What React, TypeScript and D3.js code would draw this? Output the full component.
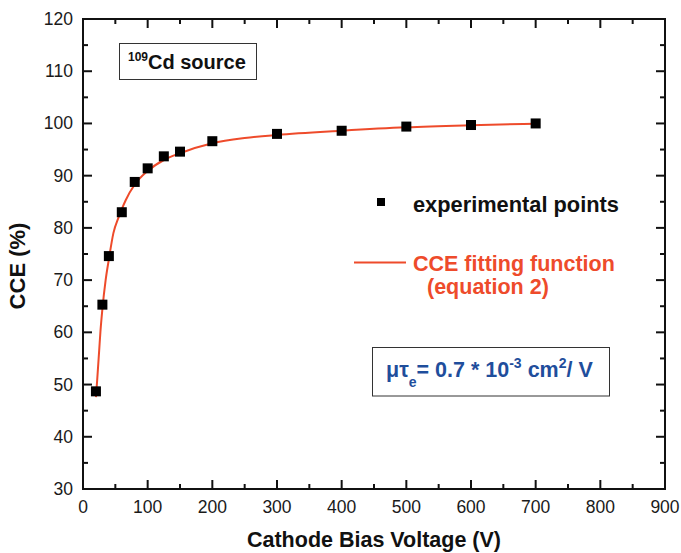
import React from "react";
import * as d3 from "d3";

const voltages = [20, 30, 40, 60, 80, 100, 125, 150, 200, 300, 400, 500, 600, 700];
const cceValues = [48.7, 65.3, 74.6, 83.0, 88.8, 91.4, 93.7, 94.6, 96.6, 98.0, 98.6, 99.4, 99.7, 100.0];

const fitVoltages = [20, 22, 25, 27, 30, 35, 40, 47, 55, 60, 66, 80, 100, 125, 150, 200, 250, 300, 400, 500, 600, 700];
const fitValues = [47.6, 51.0, 56.5, 60.2, 64.5, 70.0, 74.0, 79.0, 82.0, 83.6, 85.3, 88.3, 90.9, 93.0, 94.3, 96.2, 97.2, 97.8, 98.6, 99.25, 99.65, 99.95];

const xMajorTicks = [0, 100, 200, 300, 400, 500, 600, 700, 800, 900];
const xMinorTicks = [50, 150, 250, 350, 450, 550, 650, 750, 850];
const yMajorTicks = [30, 40, 50, 60, 70, 80, 90, 100, 110, 120];
const yMinorTicks = [35, 45, 55, 65, 75, 85, 95, 105, 115];

const FONT = "'Liberation Sans', Arial, Helvetica, sans-serif";
const RED = "#ee4b2b";
const BLUE = "#1f4e9c";

export default function App() {
  const left = 83, right = 665, top = 19, bottom = 489;
  const x = d3.scaleLinear().domain([0, 900]).range([left, right]);
  const y = d3.scaleLinear().domain([30, 120]).range([bottom, top]);

  const line = d3
    .line<number>()
    .x((_, i) => x(fitVoltages[i]))
    .y((d) => y(d))
    .curve(d3.curveMonotoneX);

  const major = 9, minor = 5;
  const sq = 10;

  return (
    <svg
      width={681}
      height={553}
      style={{ position: "absolute", left: 0, top: 0, background: "#fff" }}
      fontFamily={FONT}
    >
      <rect x={0} y={0} width={681} height={553} fill="#fff" />
      {/* ticks */}
      <g stroke="#111" strokeWidth={2}>
        {xMajorTicks.map((t) => (
          <g key={"xM" + t}>
            <line x1={x(t)} x2={x(t)} y1={bottom} y2={bottom - major} />
            <line x1={x(t)} x2={x(t)} y1={top} y2={top + major} />
          </g>
        ))}
        {xMinorTicks.map((t) => (
          <g key={"xm" + t}>
            <line x1={x(t)} x2={x(t)} y1={bottom} y2={bottom - minor} />
            <line x1={x(t)} x2={x(t)} y1={top} y2={top + minor} />
          </g>
        ))}
        {yMajorTicks.map((t) => (
          <g key={"yM" + t}>
            <line x1={left} x2={left + major} y1={y(t)} y2={y(t)} />
            <line x1={right} x2={right - major} y1={y(t)} y2={y(t)} />
          </g>
        ))}
        {yMinorTicks.map((t) => (
          <g key={"ym" + t}>
            <line x1={left} x2={left + minor} y1={y(t)} y2={y(t)} />
            <line x1={right} x2={right - minor} y1={y(t)} y2={y(t)} />
          </g>
        ))}
      </g>
      <rect x={left} y={top} width={right - left} height={bottom - top} fill="none" stroke="#111" strokeWidth={2} />

      {/* tick labels */}
      <g fontSize={17.5} fill="#1a1a1a">
        {xMajorTicks.map((t) => (
          <text key={"xl" + t} x={x(t)} y={513} textAnchor="middle">
            {t}
          </text>
        ))}
        {yMajorTicks.map((t) => (
          <text key={"yl" + t} x={73} y={y(t) + 6} textAnchor="end">
            {t}
          </text>
        ))}
      </g>

      {/* axis titles */}
      <text x={374} y={547} textAnchor="middle" fontSize={21.5} fontWeight="bold" fill="#111">
        Cathode Bias Voltage (V)
      </text>
      <text
        transform="translate(25,266) rotate(-90)"
        textAnchor="middle"
        fontSize={22}
        fontWeight="bold"
        fill="#111"
      >
        CCE (%)
      </text>

      {/* fit line */}
      <path d={line(fitValues) || ""} fill="none" stroke={RED} strokeWidth={2} />

      {/* points */}
      {voltages.map((v, i) => (
        <rect
          key={"p" + v}
          x={x(v) - sq / 2}
          y={y(cceValues[i]) - sq / 2}
          width={sq}
          height={sq}
          fill="#000"
        />
      ))}

      {/* source box */}
      <rect x={119.5} y={43.5} width={137} height={36} fill="#fff" stroke="#333" strokeWidth={1} />
      <text x={128} y={68.5} fontWeight="bold" fill="#111">
        <tspan fontSize={12} dy={-8}>109</tspan>
        <tspan fontSize={20} dy={8}>Cd source</tspan>
      </text>

      {/* legend */}
      <rect x={377} y={198} width={8} height={8} fill="#000" />
      <text x={413} y={211.5} fontSize={21.8} fontWeight="bold" fill="#111">
        experimental points
      </text>
      <line x1={354} x2={406} y1={262.5} y2={262.5} stroke={RED} strokeWidth={2} />
      <text x={413} y={271} fontSize={21.5} fontWeight="bold" fill={RED}>
        CCE fitting function
      </text>
      <text x={427} y={293.5} fontSize={21.5} fontWeight="bold" fill={RED}>
        (equation 2)
      </text>

      {/* mu tau box */}
      <rect x={372.5} y={347.5} width={237} height={48.5} fill="#fff" stroke="#333" strokeWidth={1} />
      <text x={386} y={377} fontWeight="bold" fill={BLUE} fontSize={21.5}>
        <tspan>μτ</tspan>
        <tspan fontSize={14} dy={10}>e</tspan>
        <tspan dy={-10}>= 0.7 * 10</tspan>
        <tspan fontSize={14} dy={-9}>-3</tspan>
        <tspan dy={9}> cm</tspan>
        <tspan fontSize={14} dy={-9}>2</tspan>
        <tspan dy={9}>/ V</tspan>
      </text>
    </svg>
  );
}
